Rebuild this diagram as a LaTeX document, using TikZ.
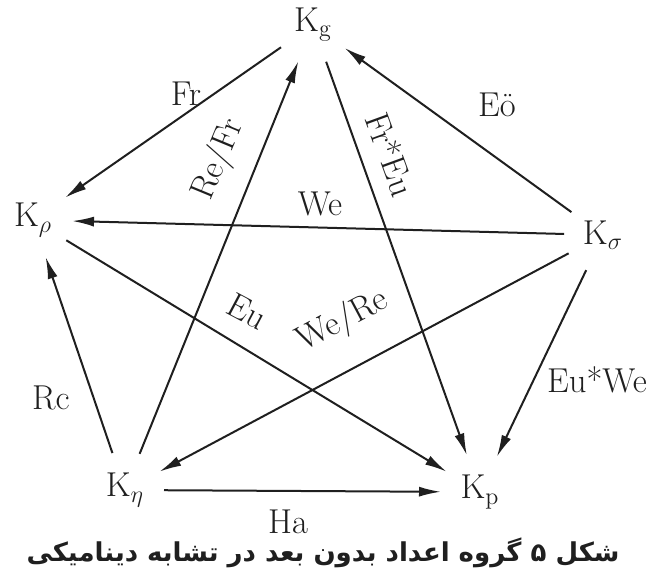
\documentclass[tikz,border=0pt]{standalone}
\usepackage{fontspec}
\usetikzlibrary{arrows.meta}
\newfontfamily\arabicfont[Script=Arabic]{DejaVu Sans}
\TeXXeTstate=1
\definecolor{ink}{gray}{0.12}
\tikzset{
  knode/.style={circle,inner sep=0pt,minimum size=38pt,font=\LARGE,text=ink},
  lbl/.style={inner sep=1pt,font=\LARGE,text=ink},
  link/.style={ink,-{Latex[length=11pt,width=5pt]}},
}

\begin{document}
\begin{tikzpicture}[x=0.5pt,y=-0.5pt,line width=1pt]
  \useasboundingbox (0,0) rectangle (651,577);
  % the five groups
  \node[knode] (kg)   at (313,25)  {$\mathrm{K}_{\mathrm{g}}$};
  \node[knode] (krho) at (33,220)  {$\mathrm{K}_{\rho}$};
  \node[knode] (ksig) at (603,235) {$\mathrm{K}_{\sigma}$};
  \node[knode] (keta) at (125,490) {$\mathrm{K}_{\eta}$};
  \node[knode] (kp)   at (480,492) {$\mathrm{K}_{\mathrm{p}}$};
  % connectors between the groups
  \draw[link] (kg)   -- (krho);
  \draw[link] (ksig) -- (kg);
  \draw[link] (ksig) -- (krho);
  \draw[link] (keta) -- (kg);
  \draw[link] (kg)   -- (kp);
  \draw[link] (krho) -- (kp);
  \draw[link] (ksig) -- (keta);
  \draw[link] (ksig) -- (kp);
  \draw[link] (keta) -- (krho);
  \draw[link] (keta) -- (kp);
  % numbers on the connectors
  \node[lbl] (fr)    at (186,94)  {Fr};
  \node[lbl] (eo)    at (497,105) {Eö};
  \node[lbl] (we)    at (320,204) {We};
  \node[lbl,rotate=67.5] (refr) at (219,160) {Re/Fr};
  \node[lbl,rotate=-70]  (freu) at (391,154) {Fr*Eu};
  \node[lbl,rotate=-28]  (eu)   at (247,311) {Eu};
  \node[lbl,rotate=28]   (were) at (343,321) {We/Re};
  \node[lbl] (rc)    at (51,398)  {Rc};
  \node[lbl] (euwe)  at (597,380) {Eu*We};
  \node[lbl] (ha)    at (288,522) {Ha};
  % caption
  \node[text=ink,font=\fontsize{13}{16}\selectfont] (cap) at (323,553)
    {\arabicfont\bfseries\beginR شکل ۵ گروه اعداد بدون بعد در تشابه دینامیکی\endR};
\end{tikzpicture}
\end{document}
